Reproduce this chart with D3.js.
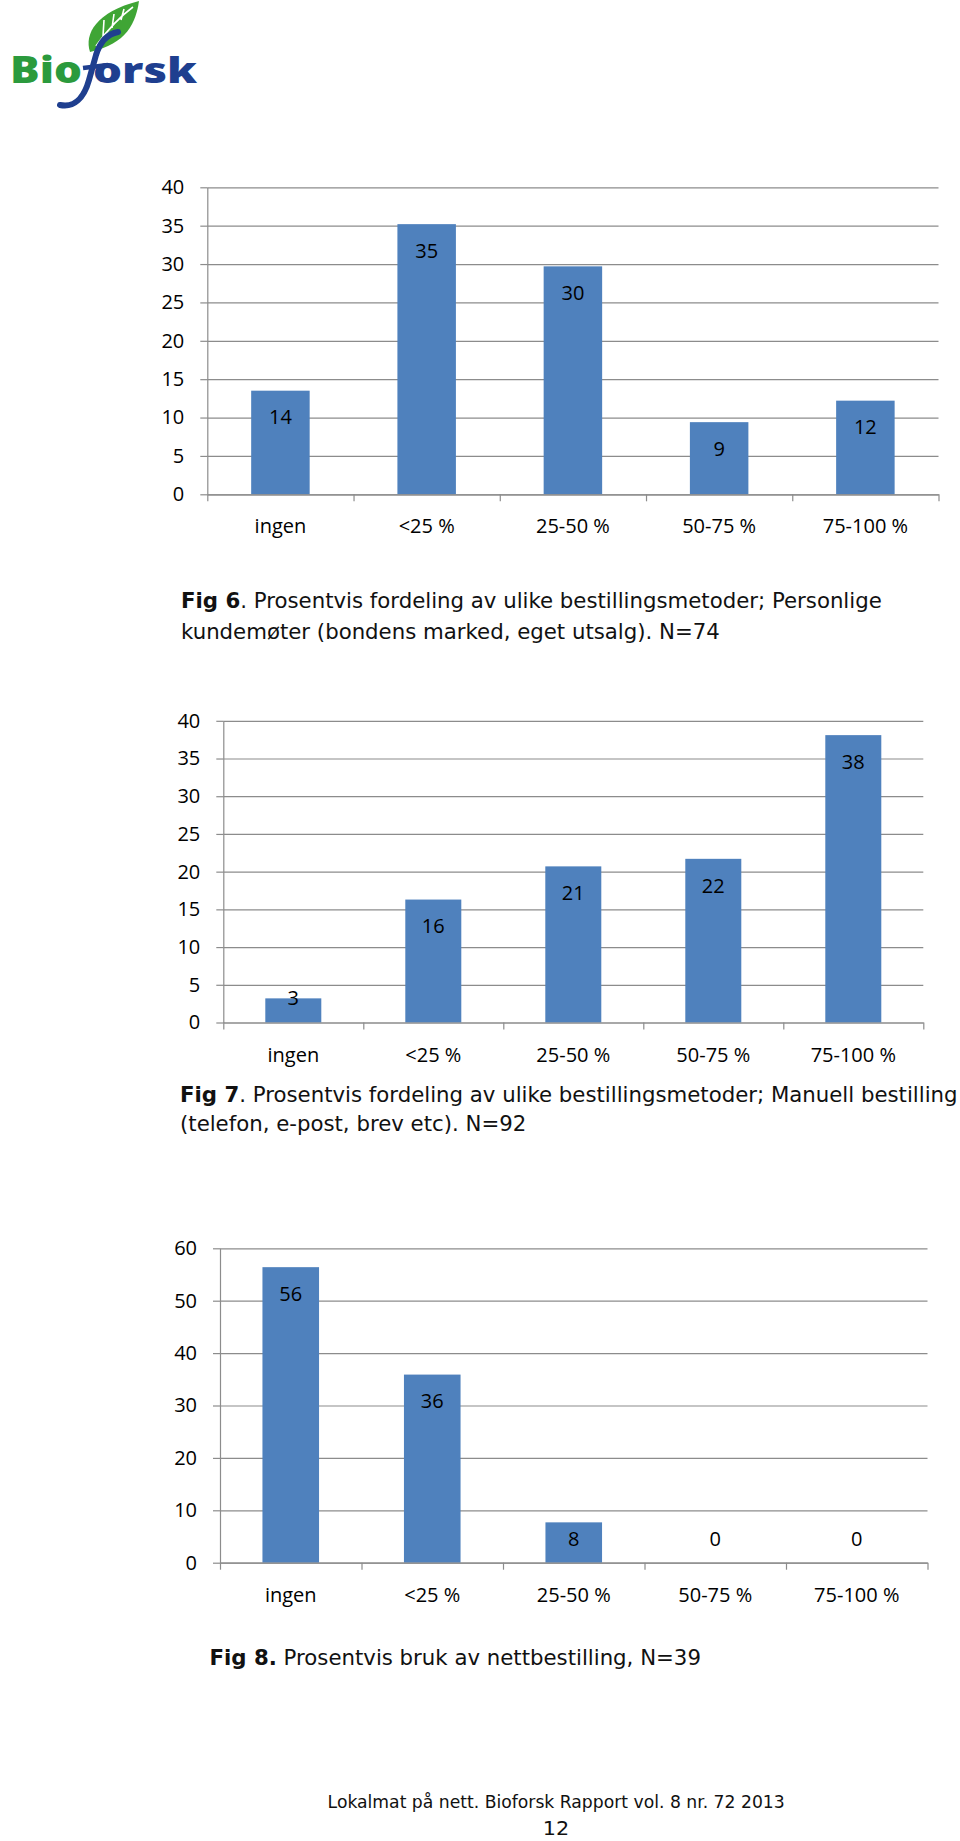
<!DOCTYPE html>
<html><head><meta charset="utf-8">
<script src="https://cdn.jsdelivr.net/npm/d3@7"></script>
<style>
html,body{margin:0;padding:0;background:#fff}
svg{display:block}
</style>
</head><body>
<svg id="page" width="960" height="1841"></svg>
<script>
// ---------- data ----------
const categories = ["ingen", "<25 %", "25-50 %", "50-75 %", "75-100 %"];
const fig6Values = [13.5, 35.2, 29.7, 9.4, 12.2];
const fig7Values = [3.2, 16.3, 20.7, 21.7, 38.1];
const fig8Values = [56.4, 35.9, 7.7, 0, 0];
const ticks40 = [0, 5, 10, 15, 20, 25, 30, 35, 40];
const ticks60 = [0, 10, 20, 30, 40, 50, 60];
const fig6Caption = [
  [{t: "Fig 6", b: true}, {t: ". Prosentvis fordeling av ulike bestillingsmetoder; Personlige", b: false}],
  [{t: "kundemøter (bondens marked, eget utsalg). N=74", b: false}]
];
const fig7Caption = [
  [{t: "Fig 7", b: true}, {t: ". Prosentvis fordeling av ulike bestillingsmetoder; Manuell bestilling", b: false}],
  [{t: "(telefon, e-post, brev etc). N=92", b: false}]
];
const fig8Caption = [
  [{t: "Fig 8.", b: true}, {t: " Prosentvis bruk av nettbestilling, N=39", b: false}]
];
const footerText = "Lokalmat på nett. Bioforsk Rapport vol. 8 nr. 72 2013";
const pageNumber = "12";

// ---------- style ----------
const BAR = "#4f81bd";
const GRID = "#8c8c8c";
const CHART_FONT = "'Open Sans', Lato, sans-serif";
const CAP_FONT = "'DejaVu Sans', Verdana, sans-serif";

const svg = d3.select("#page");

// ---------- logo ----------
const logo = svg.append("g").attr("class", "logo");
logo.append("path")
  .attr("d", "M90,52 C84,34 96,12 139,1 C136,22 127,44 90,52 Z")
  .attr("fill", "#3fa535");
logo.append("path")
  .attr("d", "M96,46 C106,32 118,18 133,7 M103,36 L104,20 M112,28 L114,14 M121,20 L124,9")
  .attr("fill", "none").attr("stroke", "#fff").attr("stroke-width", 1.6);
logo.append("path")
  .attr("d", "M60,105 C74,108 84,98 89,80 L96,55 C100,42 107,34 118,32")
  .attr("fill", "none").attr("stroke", "#1f3f8f").attr("stroke-width", 6).attr("stroke-linecap", "round");
logo.append("path")
  .attr("d", "M83,68 L108,65")
  .attr("fill", "none").attr("stroke", "#1f3f8f").attr("stroke-width", 4.5);
logo.append("text")
  .attr("x", 10).attr("y", 83)
  .attr("font-family", CHART_FONT).attr("font-weight", 800).attr("font-size", 37)
  .attr("fill", "#2b9a3d")
  .attr("textLength", 72).attr("lengthAdjust", "spacingAndGlyphs")
  .text("Bio");
logo.append("text")
  .attr("x", 93).attr("y", 83)
  .attr("font-family", CHART_FONT).attr("font-weight", 800).attr("font-size", 35)
  .attr("fill", "#1f3f8f")
  .attr("textLength", 104).attr("lengthAdjust", "spacingAndGlyphs")
  .text("orsk");

// ---------- bar chart ----------
function drawChart(cfg) {
  const g = svg.append("g");
  const w = cfg.right - cfg.left;
  const y = d3.scaleLinear().domain([0, cfg.max]).range([cfg.y0, cfg.yTop]);
  const xb = d3.scaleBand().domain(categories).range([cfg.left, cfg.right])
    .paddingInner(0.6).paddingOuter(0.3);
  const xl = d3.scaleLinear().domain([0, categories.length]).range([cfg.left, cfg.right]);

  // gridlines
  const grid = g.append("g").attr("transform", `translate(${cfg.left},0)`)
    .call(d3.axisLeft(y).tickValues(cfg.ticks).tickSize(-w).tickFormat(""));
  grid.select(".domain").remove();
  grid.selectAll("line").attr("stroke", GRID).attr("stroke-width", 1.2);

  // bars
  g.selectAll("rect.bar").data(cfg.values).enter().append("rect")
    .attr("class", "bar")
    .attr("x", (d, i) => xb(categories[i]))
    .attr("width", xb.bandwidth())
    .attr("y", d => y(d))
    .attr("height", d => y(0) - y(d))
    .attr("fill", BAR);

  // y axis
  const ya = g.append("g").attr("transform", `translate(${cfg.left},0)`)
    .call(d3.axisLeft(y).tickValues(cfg.ticks).tickSize(7).tickSizeOuter(0).tickPadding(16));
  ya.select(".domain").attr("stroke", GRID).attr("stroke-width", 1.2);
  ya.selectAll("line").attr("stroke", GRID).attr("stroke-width", 1.2);
  ya.selectAll("text").attr("font-family", CHART_FONT).attr("font-size", 20).attr("fill", "#000");

  // x axis line + boundary ticks
  const xa = g.append("g").attr("transform", `translate(0,${cfg.y0})`)
    .call(d3.axisBottom(xl).tickValues(d3.range(categories.length + 1)).tickSize(7).tickSizeOuter(0).tickFormat(""));
  xa.select(".domain").attr("stroke", GRID).attr("stroke-width", 1.2);
  xa.selectAll("line").attr("stroke", GRID).attr("stroke-width", 1.2);

  // category labels
  const xc = g.append("g").attr("transform", `translate(0,${cfg.y0})`)
    .call(d3.axisBottom(xb).tickSize(0).tickPadding(24.8));
  xc.select(".domain").remove();
  xc.selectAll("text").attr("font-family", CHART_FONT).attr("font-size", 20).attr("fill", "#000");

  // data labels
  g.selectAll("text.val").data(cfg.values).enter().append("text")
    .attr("class", "val")
    .attr("x", (d, i) => xb(categories[i]) + xb.bandwidth() / 2)
    .attr("y", d => Math.min(y(d) + 26.5, cfg.y0 - 24.3))
    .attr("dy", "0.36em")
    .attr("text-anchor", "middle")
    .attr("font-family", CHART_FONT).attr("font-size", 20).attr("fill", "#000")
    .text(d => d3.format(".0f")(Math.round(d)));
}

drawChart({values: fig6Values, ticks: ticks40, max: 40, left: 207.3, right: 938.5, y0: 494.3, yTop: 187.3});
drawChart({values: fig7Values, ticks: ticks40, max: 40, left: 223.3, right: 923.3, y0: 1022.5, yTop: 720.8});
drawChart({values: fig8Values, ticks: ticks60, max: 60, left: 220, right: 927.5, y0: 1562.7, yTop: 1248.3});

// ---------- captions ----------
function textLine(x, baseline, parts, size) {
  const t = svg.append("text")
    .attr("font-family", CAP_FONT).attr("font-size", size).attr("fill", "#111")
    .attr("x", 0).attr("y", 0);
  parts.forEach(p => {
    t.append("tspan").attr("font-weight", p.b ? "bold" : "normal").text(p.t);
  });
  t.attr("data-x", x).attr("data-y", baseline);
  return t;
}
const capSize = 20.5;
const lines = [];
lines.push(textLine(181, 608.3, fig6Caption[0], capSize));
lines.push(textLine(181, 639, fig6Caption[1], capSize));
lines.push(textLine(180, 1101.7, fig7Caption[0], capSize));
lines.push(textLine(180, 1130.5, fig7Caption[1], capSize));
lines.push(textLine(209.5, 1665, fig8Caption[0], capSize));
const footer = textLine(327.6, 1808.3, [{t: footerText, b: false}], 18);
const pnum = svg.append("text")
  .attr("x", 556).attr("y", 1835.5).attr("text-anchor", "middle")
  .attr("font-family", CAP_FONT).attr("font-size", 20).attr("fill", "#111")
  .text(pageNumber);

// horizontal condensing so the wide fallback font matches the original's narrow face
const refWidth = lines[0].node().getComputedTextLength();
const sx = refWidth > 0 ? 701.5 / refWidth : 1;
lines.concat([footer]).forEach(t => {
  t.attr("transform", `translate(${t.attr("data-x")},${t.attr("data-y")}) scale(${sx},1)`);
});
const fw = footer.node().getComputedTextLength();
if (fw > 0) footer.attr("transform", `translate(${footer.attr("data-x")},${footer.attr("data-y")}) scale(${457 / fw},1)`);
pnum.attr("transform", `translate(556,0) scale(${sx},1) translate(-556,0)`);
</script>
</body></html>
